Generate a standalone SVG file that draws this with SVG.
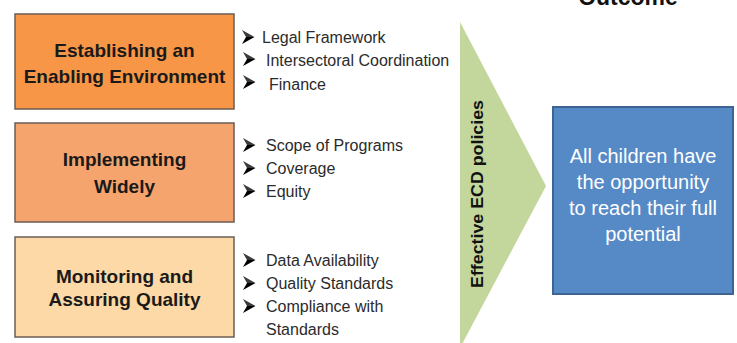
<svg xmlns="http://www.w3.org/2000/svg" width="737" height="343" viewBox="0 0 737 343">
  <style>
    .pillar { stroke: #6b5d55; stroke-width: 1.5; }
    .pillar-label { font-family: "Liberation Sans", Arial, sans-serif; font-weight: bold; font-size: 19px; fill: #1a1a1a; text-anchor: middle; }
    .item { font-family: "Liberation Sans", Arial, sans-serif; font-size: 16px; fill: #2b2b2b; }
    .policy { font-family: "Liberation Sans", Arial, sans-serif; font-weight: bold; font-size: 17px; fill: #111; text-anchor: middle; }
    .outcome-text { font-family: "Liberation Sans", Arial, sans-serif; font-size: 20px; fill: #ffffff; text-anchor: middle; }
    .heading { font-family: "Liberation Sans", Arial, sans-serif; font-weight: bold; font-size: 23px; fill: #111; text-anchor: middle; }
  </style>
  <defs>
    <!-- arrowhead bullet, 14 tall, centred on y=0 -->
    <g id="bullet">
      <path d="M0,-7 L12.5,0 L4,0 Z" fill="#3a3a3a"/>
      <path d="M4,0 L12.5,0 L0,7 Z" fill="#000"/>
    </g>
  </defs>

  <rect width="737" height="343" fill="#ffffff"/>

  <!-- column heading, cut by the top edge -->
  <text class="heading" x="628" y="5">Outcome</text>

  <!-- policy chevron -->
  <g id="policies">
    <polygon points="460,22 546,186 460,348" fill="#c3d69b"/>
    <text class="policy" transform="translate(483,194) rotate(-90)" textLength="188" lengthAdjust="spacingAndGlyphs">Effective ECD policies</text>
  </g>

  <!-- pillar 1 -->
  <g id="pillar-enabling">
    <rect class="pillar" x="15" y="14" width="219" height="95" fill="#f79646"/>
    <text class="pillar-label" x="124.5" y="57">Establishing an</text>
    <text class="pillar-label" x="124.5" y="83">Enabling Environment</text>
  </g>
  <g id="items-enabling">
    <use href="#bullet" x="242" y="37"/>
    <text class="item" x="262" y="43">Legal Framework</text>
    <use href="#bullet" x="243" y="59"/>
    <text class="item" x="266" y="66">Intersectoral  Coordination</text>
    <use href="#bullet" x="243" y="82"/>
    <text class="item" x="269" y="90">Finance</text>
  </g>

  <!-- pillar 2 -->
  <g id="pillar-implementing">
    <rect class="pillar" x="15" y="123" width="219" height="99" fill="#f5a46e"/>
    <text class="pillar-label" x="124.5" y="166">Implementing</text>
    <text class="pillar-label" x="124.5" y="193">Widely</text>
  </g>
  <g id="items-implementing">
    <use href="#bullet" x="243" y="145"/>
    <text class="item" x="266" y="151">Scope of Programs</text>
    <use href="#bullet" x="243" y="168"/>
    <text class="item" x="266" y="174">Coverage</text>
    <use href="#bullet" x="243" y="191"/>
    <text class="item" x="266" y="197">Equity</text>
  </g>

  <!-- pillar 3 -->
  <g id="pillar-monitoring">
    <rect class="pillar" x="15" y="237" width="219" height="100" fill="#fcd9a6"/>
    <text class="pillar-label" x="124.5" y="283">Monitoring and</text>
    <text class="pillar-label" x="124.5" y="306">Assuring Quality</text>
  </g>
  <g id="items-monitoring">
    <use href="#bullet" x="243" y="260"/>
    <text class="item" x="266" y="266">Data Availability</text>
    <use href="#bullet" x="243" y="283"/>
    <text class="item" x="266" y="289">Quality Standards</text>
    <use href="#bullet" x="243" y="306"/>
    <text class="item" x="266" y="312">Compliance with</text>
    <text class="item" x="266" y="335">Standards</text>
  </g>

  <!-- outcome box -->
  <g id="outcome">
    <rect x="553" y="107" width="180" height="187" fill="#568ac6" stroke="#3d6494" stroke-width="2"/>
    <text class="outcome-text" x="643" y="163">All children have</text>
    <text class="outcome-text" x="643" y="189">the opportunity</text>
    <text class="outcome-text" x="643" y="215">to reach their full</text>
    <text class="outcome-text" x="643" y="241">potential</text>
  </g>
</svg>
